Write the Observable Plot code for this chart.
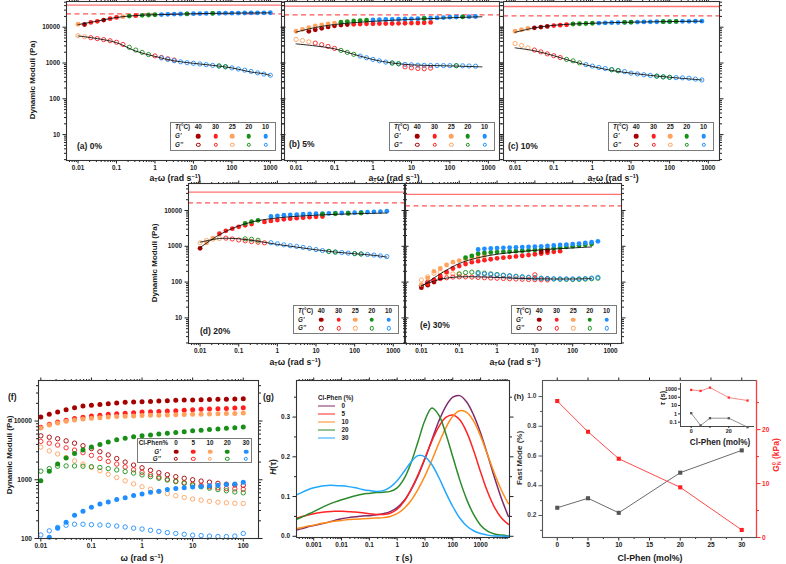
<!DOCTYPE html>
<html><head><meta charset="utf-8">
<script src="https://cdn.jsdelivr.net/npm/d3@7"></script>
<script src="https://cdn.jsdelivr.net/npm/@observablehq/plot@0.6"></script>
<style>
html,body{margin:0;padding:0;background:#fff;}
#fig{position:relative;width:786px;height:564px;overflow:hidden;font-family:"Liberation Sans",Arial,Helvetica,sans-serif;font-weight:bold;color:#1a1a1a;}
#fig svg{position:absolute;overflow:visible;}
.t{position:absolute;white-space:nowrap;line-height:1;}
.t sup{font-size:62%;vertical-align:0.55em;line-height:0;}
.t sub{font-size:62%;vertical-align:-0.3em;line-height:0;}
.ss{display:inline-block;vertical-align:-0.45em;font-size:60%;line-height:0.95;text-align:left;}
.ss span{display:block;}
.lg{position:absolute;border:1px solid #7a7a7a;background:#fff;box-sizing:border-box;}
.sw{position:absolute;border-radius:50%;box-sizing:border-box;transform:translate(-50%,-50%);}
.ln{position:absolute;height:0;border-top:1.6px solid;transform:translateY(-50%);}
</style></head><body><div id="fig"></div>
<script>
const fontFamily = '"Liberation Sans", Arial, Helvetica, sans-serif';
const fig = document.getElementById("fig");

// ---------- shared values ----------
// angular frequencies of the sweeps (6 points per decade)
const gridW = [0.01,0.0147,0.0215,0.0316,0.0464,0.0681,0.1,0.147,0.215,0.316,0.464,0.681,1,1.47,2.15,3.16,4.64,6.81,10,14.7,21.5,31.6,46.4,68.1,100,147,215,316,464,681,1000];
// frequencies at which the model fits are tabulated
const fitW = [0.01,0.0316,0.1,0.316,1,3.16,10,31.6,100,316,681,1000];
const temps = [40, 30, 25, 20, 10];
const tempColor = {40:"#a50000", 30:"#ff1f1f", 25:"#ffa25e", 20:"#189018", 10:"#1f8fff"};
const freqTicks = [0.01, 0.1, 1, 10, 100, 1000];
const moduliTicks = [10, 100, 1000, 10000];

// ---------- (a) 0 % ----------
// rows: [temperature, first grid index, values...]
const storageA = [
  [25,0,12100],[40,1,11900],[30,2,13600,14600],[40,4,15800],[30,5,17300,18700],[25,7,19700],
  [20,8,20500],[30,9,21000],[20,10,21500,21900,22300],
  [10,13,22600,22900,23200,23400,23600,23800,24000,24200,24400,24500,24600,24700,24800,24900,25000,25100,25200,25300],
  [20,17,23600],[20,21,24400]
];
const lossA = [
  [25,0,5800,5400],[30,2,5100,4800,4500,4200,3800,3300],[20,8,2750,2300,1980,1720],
  [30,12,1580,1430,1310,1210],
  [10,13,1390,1260,1160,1080,1020,980,940,900,860,820,780,730,680,630,580,530,490,455],
  [20,22,830,790]
];
const fitStorageA = [11800,14800,18700,21200,22300,23000,23700,24300,24700,25000,25100,25200];
const fitLossA = [5700,4800,3700,2150,1530,1150,980,860,730,560,500,450];
const plateauA = [41200, 23700];

// ---------- (b) 5 % ----------
const storageB = [
  [40,2,7700,8500,9300,10200,10900,11500,11900],
  [30,9,12100,12300,12400,12500,12600,12700,12700,12800,12900,13000,13100,13300,13600],
  [25,0,7700,8700,9700,10800,11600,12300,13000],
  [20,7,13800,14400,14900,15300,15700],
  [10,12,16000,16200,16400,16600,16800,17000,17100,17300,17600,17900,18200,18600,19000,19300,19500,19700,19900],
  [20,20,17600],[20,26,19500]
];
const lossB = [
  [25,0,4540,4250,3900],[30,3,3600,3250,2900,2550],[20,7,2250,1980,1750],
  [10,10,1560,1400,1260,1150,1060,1000,950,915,890,870,860,855,850,848,845,840,835,825,815],
  [20,15,1000,950],[20,25,840],[30,17,780,730,700,690,720]
];
const fitStorageB = [7300,9800,11900,13400,14600,15600,16500,17400,18300,19100,19600,null];
const fitLossB = [3430,3000,2500,1750,1250,1000,890,850,830,800,780,null];
const plateauB = [38600, 22200];

// ---------- (c) 10 % ----------
const storageC = [
  [25,0,7700,8500,9200],[40,3,9600,10100,10500],[30,6,11100,11400,11700],[20,9,12300,12500,12700,12900],
  [10,13,13050,13200,13350,13500,13650,13800,13900,14000,14100,14200,14300,14400,14500,14550,14600,14650,14700],
  [20,17,13650,13800],[20,23,14300,14400,14500]
];
const lossC = [
  [25,0,3500,3100,2650],[30,3,2300,2050,1800,1600,1420],[20,8,1260,1150,1010],
  [10,11,900,820,750,700,650,610,575,520,495,470,450,430,410,398,390,385,375,355,335],
  [20,15,650,610],[20,22,430,410,398]
];
const fitStorageC = [7200,9600,11300,12300,12900,13400,13800,14100,14400,14600,14700,null];
const fitLossC = [2650,2200,1600,1100,800,620,520,450,400,360,335,null];
const plateauC = [37900, 20800];

// ---------- (d) 20 % ----------
const storageD = [
  [40,0,880],[25,1,1250,1700],[30,3,2250,2700,3100,3500,3850,4200],[20,7,4350,4900,5300],
  [30,10,4800,5100,5400,5650,5900,6100,6300,6500,6650,6800],
  [10,11,6800,7100,7350,7550,7700,7850,8000,8100,8200,8300,8400,8500,8600,8700,8800,8950,9150,9350,9550],
  [20,19,7900],[20,21,8100],[20,23,8300],[20,25,8450]
];
const lossD = [
  [25,0,1250,1450,1580,1650],[30,4,1690,1600,1500,1420,1350,1300,1250],[20,7,1620,1570,1470],
  [10,11,1260,1170,1100,1040,990,930,870,810,760,720,690,670,645,625,610,590,570,540,515],
  [20,20,720,690],[20,24,625,610]
];
const fitStorageD = [920,2100,3700,5200,6200,6900,7400,7800,8100,8350,8500,null];
const fitLossD = [1300,1650,1620,1380,1130,950,800,690,620,560,500,null];
const plateauD = [32500, 16400];

// ---------- (e) 30 % ----------
const storageE = [
  [40,0,70,82,100,130],
  [30,1,90,115,150,190,240,280,320,360,385,410,435,460,480,500,520,545,570,600,630,660,700,730],
  [25,0,85,130,200,240,300,360,400,430,460,500,540],
  [20,7,480,540,620,650,670,690,700,715,730,750,770,790,820,850,880,920,960,1000,1050,1100,1150],
  [10,9,820,850,870,890,905,920,935,950,965,980,1000,1030,1060,1090,1120,1150,1190,1240,1300,1380],
  [40,19,700,760]
];
const lossE = [
  [40,0,80,95,110],[25,0,115,140,175,190,180,170,165],
  [30,1,100,112,125,132,138,140,140,138,135,132,130,128,126,124,122,120,118,117,116,115],
  [20,6,170,185,190,185,178,170,163,156,150,145,140,136,132,128,125,122,120,119,118,119,121,124,128],
  [10,9,172,168,163,158,153,148,143,139,135,131,128,126,124,123,123,123,124,126,130,136],
  [30,18,160]
];
const fitStorageE = [75,170,330,480,600,690,770,840,900,960,null,null];
const fitLossE = [80,120,140,140,135,128,124,122,122,125,null,null];
const plateauE = [28000, 13500];

// ---------- (f) 25 °C sweeps ----------
const compositions = [0, 5, 10, 20, 30];
const compColor = {0:"#a50000", 5:"#ff1f1f", 10:"#ffa25e", 20:"#189018", 30:"#1f8fff"};
const omegaF = gridW.slice(0, 25);
const storageF = [
  [11700,13000,14200,15600,16900,18000,18500,19200,19700,20200,20800,21000,21400,21600,21900,22200,22500,22800,22800,23000,23200,23400,23500,23700,24000],
  [7800,8800,9600,10300,11000,11600,12200,12600,13000,13300,13600,13900,14200,14400,14600,14800,15000,15300,15600,15800,16000,16200,16400,16600,16900],
  [7600,8600,9300,9900,10400,10800,11100,11400,11700,11900,12100,12200,12400,12500,12600,12700,12800,12900,13000,13100,13200,13300,13400,13500,13700],
  [960,1400,1850,2350,2800,3200,3600,4000,4400,4800,5100,5400,5600,5800,6000,6200,6400,6600,6800,7000,7200,7300,7500,7700,7900],
  [null,105,150,190,250,290,340,385,420,460,495,540,575,615,635,680,710,730,750,770,790,810,830,850,910]
];
const lossF = [
  [5600,5300,5000,4600,4200,3800,3400,3000,2650,2300,2000,1780,1600,1450,1320,1220,1130,1060,1000,950,910,870,840,820,805],
  [4500,4200,3900,3500,3200,2900,2600,2300,2050,1850,1650,1480,1340,1220,1110,1020,950,890,840,800,760,730,710,700,690],
  [3600,3100,2750,2400,2100,1850,1620,1420,1240,1090,960,850,760,690,630,580,535,500,470,450,430,415,405,398,395],
  [1400,1550,1700,1720,1720,1700,1670,1620,1550,1470,1380,1300,1210,1130,1060,990,930,870,810,760,720,680,650,620,600],
  [115,135,155,168,175,175,172,170,168,163,157,150,145,138,132,126,122,118,114,112,110,108,108,110,122]
];

// ---------- (g) relaxation spectra ----------
const tauGrid = [0.000178,0.000316,0.000562,0.001,0.00178,0.00316,0.00562,0.01,0.0178,0.0316,0.0562,0.1,0.178,0.316,0.562,1,1.78,3.16,5.62,10,17.8,31.6,56.2,100,178,316,562,1000,1780,3160,5620,10000];
const spectrumColor = {0:"#7e2b6c", 5:"#ff2424", 10:"#ff8c1a", 20:"#2b8a2b", 30:"#22a8ff"};
const spectra = {
  0:  [0.012,0.018,0.023,0.027,0.031,0.035,0.040,0.044,0.047,0.049,0.051,0.052,0.054,0.057,0.062,0.072,0.090,0.117,0.152,0.195,0.243,0.290,0.327,0.350,0.354,0.338,0.305,0.260,0.205,0.148,0.095,0.050],
  5:  [0.044,0.048,0.053,0.057,0.060,0.062,0.063,0.063,0.062,0.061,0.059,0.057,0.055,0.055,0.058,0.068,0.088,0.118,0.155,0.197,0.240,0.276,0.299,0.305,0.293,0.262,0.216,0.162,0.112,0.073,0.046,0.030],
  10: [0.018,0.021,0.025,0.028,0.032,0.035,0.038,0.040,0.042,0.043,0.044,0.045,0.046,0.047,0.050,0.057,0.070,0.090,0.118,0.152,0.192,0.234,0.273,0.302,0.316,0.312,0.290,0.252,0.205,0.158,0.116,0.082],
  20: [0.040,0.046,0.054,0.062,0.071,0.079,0.086,0.092,0.097,0.102,0.106,0.108,0.110,0.111,0.113,0.122,0.145,0.185,0.238,0.292,0.323,0.305,0.258,0.200,0.142,0.093,0.055,0.028,0.013,0.006,0.003,0.001],
  30: [0.100,0.108,0.116,0.122,0.126,0.128,0.128,0.127,0.125,0.122,0.118,0.115,0.113,0.115,0.124,0.140,0.163,0.187,0.203,0.200,0.180,0.148,0.110,0.075,0.046,0.026,0.014,0.007,0.003,0.001,0.0005,0.0002]
};

// ---------- (h) fast mode fraction, plateau modulus, relaxation times ----------
const clPhen = [0, 5, 10, 20, 30];
const fastMode = [0.252, 0.316, 0.218, 0.488, 0.638];
const plateauModulus = [25.3, 19.6, 14.6, 9.3, 1.4];
const tauFast = [1.2, 0.04, 0.3, 0.3, 0.025];
const tauSlow = [760, 575, 1440, 91, 40];
const fastModeTicks = [0.2, 0.4, 0.6, 0.8, 1.0];

// ---------- helpers ----------
function plotStyle(size) {
  return {background: "transparent", fontFamily, fontSize: size + "px", fontWeight: "bold", color: "#222", overflow: "visible"};
}
function addPlot(svg, left, top) {
  svg.style.position = "absolute";
  svg.style.left = left + "px";
  svg.style.top = top + "px";
  fig.appendChild(svg);
}
function minorLog(lo, hi) {
  const out = [];
  for (let e = Math.floor(Math.log10(lo)); e <= Math.ceil(Math.log10(hi)); e++)
    for (let m = 2; m <= 9; m++) {
      const v = +(m * Math.pow(10, e)).toPrecision(3);
      if (v > lo && v < hi) out.push(v);
    }
  return out;
}
const inside = (ticks, [lo, hi]) => ticks.filter(v => v >= lo && v <= hi);
const none = () => "";
function boxAxes({xMajor, xMinor, yMajor, yMinor, xFmt = String, yFmt = String, xLabels = true, yLabels = true, color = "#222", mirrorX = true, mirrorY = true}) {
  const big = 3.5, small = 2;
  const m = [
    Plot.axisX(xMajor, {anchor: "bottom", tickSize: big, tickPadding: 1.5, tickFormat: xLabels ? xFmt : none, label: null, color}),
    Plot.axisX(xMinor, {anchor: "bottom", tickSize: small, tickFormat: none, label: null, color}),
    Plot.axisY(yMajor, {anchor: "left", tickSize: big, tickPadding: 3, tickFormat: yLabels ? yFmt : none, label: null, color}),
    Plot.axisY(yMinor, {anchor: "left", tickSize: small, tickFormat: none, label: null, color})
  ];
  if (mirrorX) m.push(
    Plot.axisX(xMajor, {anchor: "top", tickSize: big, tickFormat: none, label: null, color}),
    Plot.axisX(xMinor, {anchor: "top", tickSize: small, tickFormat: none, label: null, color}));
  if (mirrorY) m.push(
    Plot.axisY(yMajor, {anchor: "right", tickSize: big, tickFormat: none, label: null, color}),
    Plot.axisY(yMinor, {anchor: "right", tickSize: small, tickFormat: none, label: null, color}));
  return m;
}
function label(html, x, y, {size = 8.5, rotate = 0, anchor = "middle", color = "#1a1a1a"} = {}) {
  const d = document.createElement("div");
  d.className = "t";
  d.innerHTML = html;
  d.style.left = x + "px";
  d.style.top = y + "px";
  d.style.fontSize = size + "px";
  d.style.color = color;
  const tx = anchor === "start" ? "0" : anchor === "end" ? "-100%" : "-50%";
  d.style.transform = `translate(${tx},-50%)` + (rotate ? ` rotate(${rotate}deg)` : "");
  fig.appendChild(d);
}
function swatch(x, y, color, filled, size = 4.6) {
  const s = document.createElement("span");
  s.className = "sw";
  s.style.left = x + "px";
  s.style.top = y + "px";
  s.style.width = s.style.height = size + "px";
  if (filled) s.style.background = color;
  else s.style.border = `1px solid ${color}`;
  fig.appendChild(s);
}
function box(left, top, w, h) {
  const b = document.createElement("div");
  b.className = "lg";
  Object.assign(b.style, {left: left + "px", top: top + "px", width: w + "px", height: h + "px"});
  fig.appendChild(b);
}

// ---------- master-curve panels ----------
const yDomTop = [1.89, 52240];
const yDomMid = [1.93, 56700];
const xDomMaster = [0.00501, 1950];
const xDomE = [0.0038, 1950];

function moduliPanel({frame, xDomain, yDomain, storage, loss, fitStorage, fitLoss, plateau, yLabels}) {
  const [l, t, w, h] = frame;
  const m = {l: 30, r: 6, t: 4, b: 14};
  const pts = rows => rows.flatMap(([T, k, ...vals]) => vals.map((v, i) => ({T, w: gridW[k + i], v})));
  const fit = vals => fitW.map((w, i) => ({w, v: vals[i]})).filter(d => d.v != null);
  const svg = Plot.plot({
    width: w + m.l + m.r, height: h + m.t + m.b,
    marginLeft: m.l, marginRight: m.r, marginTop: m.t, marginBottom: m.b,
    x: {type: "log", domain: xDomain},
    y: {type: "log", domain: yDomain},
    color: {type: "identity"},
    style: plotStyle(6.4),
    marks: [
      Plot.ruleY([plateau[0]], {stroke: "#ff7272", strokeWidth: 1.3}),
      Plot.ruleY([plateau[1]], {stroke: "#ff5656", strokeWidth: 1.2, strokeDasharray: "5 3.5"}),
      Plot.dot(pts(loss), {x: "w", y: "v", r: 2.1, stroke: d => tempColor[d.T], strokeWidth: 0.9, fill: "none"}),
      Plot.dot(pts(storage), {x: "w", y: "v", r: 2.4, fill: d => tempColor[d.T]}),
      Plot.line(fit(fitStorage), {x: "w", y: "v", stroke: "#111", strokeWidth: 0.9, curve: "catmull-rom"}),
      Plot.line(fit(fitLoss), {x: "w", y: "v", stroke: "#111", strokeWidth: 0.9, curve: "catmull-rom"}),
      ...boxAxes({
        xMajor: inside(freqTicks, xDomain), xMinor: minorLog(...xDomain),
        yMajor: inside(moduliTicks, yDomain), yMinor: minorLog(...yDomain),
        yLabels
      }),
      Plot.frame({stroke: "#333", strokeWidth: 1.1})
    ]
  });
  addPlot(svg, l - m.l, t - m.t);
}

moduliPanel({frame: [66, 1, 215, 159], xDomain: xDomMaster, yDomain: yDomTop, storage: storageA, loss: lossA, fitStorage: fitStorageA, fitLoss: fitLossA, plateau: plateauA, yLabels: true});
moduliPanel({frame: [284, 1, 215, 159], xDomain: xDomMaster, yDomain: yDomTop, storage: storageB, loss: lossB, fitStorage: fitStorageB, fitLoss: fitLossB, plateau: plateauB, yLabels: false});
moduliPanel({frame: [503, 1, 216, 159], xDomain: xDomMaster, yDomain: yDomTop, storage: storageC, loss: lossC, fitStorage: fitStorageC, fitLoss: fitLossC, plateau: plateauC, yLabels: false});
moduliPanel({frame: [188, 183, 216, 160], xDomain: xDomMaster, yDomain: yDomMid, storage: storageD, loss: lossD, fitStorage: fitStorageD, fitLoss: fitLossD, plateau: plateauD, yLabels: true});
moduliPanel({frame: [405, 183, 216, 160], xDomain: xDomE, yDomain: yDomMid, storage: storageE, loss: lossE, fitStorage: fitStorageE, fitLoss: fitLossE, plateau: plateauE, yLabels: false});

// ---------- (f) ----------
{
  const frame = [38, 380, 220, 158], m = {l: 30, r: 6, t: 4, b: 14};
  const xDomain = [0.009, 200], yDomain = [100, 49000];
  const pts = rows => compositions.flatMap((c, i) => rows[i].map((v, k) => ({c, w: omegaF[k], v}))).filter(d => d.v != null);
  const svg = Plot.plot({
    width: frame[2] + m.l + m.r, height: frame[3] + m.t + m.b,
    marginLeft: m.l, marginRight: m.r, marginTop: m.t, marginBottom: m.b,
    x: {type: "log", domain: xDomain}, y: {type: "log", domain: yDomain},
    color: {type: "identity"},
    style: plotStyle(6.6),
    marks: [
      Plot.dot(pts(lossF), {x: "w", y: "v", r: 2.2, stroke: d => compColor[d.c], strokeWidth: 0.9, fill: "none"}),
      Plot.dot(pts(storageF), {x: "w", y: "v", r: 2.5, fill: d => compColor[d.c]}),
      ...boxAxes({
        xMajor: inside(freqTicks, xDomain), xMinor: minorLog(...xDomain),
        yMajor: [100, 1000, 10000], yMinor: minorLog(...yDomain)
      }),
      Plot.frame({stroke: "#333", strokeWidth: 1.1})
    ]
  });
  addPlot(svg, frame[0] - m.l, frame[1] - m.t);
}

// ---------- (g) ----------
{
  const frame = [296, 380, 213, 157], m = {l: 24, r: 6, t: 4, b: 14};
  const xDomain = [0.00024, 10960], yDomain = [-0.003, 0.392];
  const lines = compositions.flatMap(c => spectra[c].map((v, i) => ({c, tau: tauGrid[i], v})));
  const svg = Plot.plot({
    width: frame[2] + m.l + m.r, height: frame[3] + m.t + m.b,
    marginLeft: m.l, marginRight: m.r, marginTop: m.t, marginBottom: m.b,
    x: {type: "log", domain: xDomain}, y: {domain: yDomain},
    color: {type: "identity"},
    style: plotStyle(6.4),
    marks: [
      Plot.line(lines, {x: "tau", y: "v", z: "c", stroke: d => spectrumColor[d.c], strokeWidth: 1.5, curve: "catmull-rom", clip: true}),
      ...boxAxes({
        xMajor: [0.001, 0.01, 0.1, 1, 10, 100, 1000], xMinor: minorLog(...xDomain),
        yMajor: [0, 0.1, 0.2, 0.3], yMinor: [0.05, 0.15, 0.25, 0.35], yFmt: d3.format(".1f")
      }),
      Plot.frame({stroke: "#333", strokeWidth: 1.1})
    ]
  });
  addPlot(svg, frame[0] - m.l, frame[1] - m.t);
}

// ---------- (h) ----------
const frameH = [542, 380, 214, 157], marginH = {l: 24, r: 30, t: 4, b: 14};
let fastModeScale;
{
  const frame = frameH, m = marginH;
  const xDomain = [-2.4, 32.4], yDomain = [0.052, 1.108];
  const base = Plot.plot({
    width: frame[2] + m.l + m.r, height: frame[3] + m.t + m.b,
    marginLeft: m.l, marginRight: m.r, marginTop: m.t, marginBottom: m.b,
    x: {domain: xDomain}, y: {domain: yDomain},
    style: plotStyle(6.5),
    marks: [
      Plot.line(clPhen, {x: d => d, y: (d, i) => fastMode[i], stroke: "#6b6b6b", strokeWidth: 1}),
      Plot.dot(clPhen, {x: d => d, y: (d, i) => fastMode[i], symbol: "square", r: 2.3, fill: "#555"}),
      Plot.axisX([0, 5, 10, 15, 20, 25, 30], {anchor: "bottom", tickSize: 3.5, tickPadding: 1.5, tickFormat: String, label: null}),
      Plot.axisX([2.5, 7.5, 12.5, 17.5, 22.5, 27.5], {anchor: "bottom", tickSize: 2, tickFormat: none, label: null}),
      Plot.axisX([0, 5, 10, 15, 20, 25, 30], {anchor: "top", tickSize: 3.5, tickFormat: none, label: null}),
      Plot.axisY(fastModeTicks, {anchor: "left", tickSize: 3.5, tickFormat: none, label: null, stroke: "#555"}),
      Plot.axisY([0.1, 0.3, 0.5, 0.7, 0.9], {anchor: "left", tickSize: 2, tickFormat: none, label: null, stroke: "#555"}),
      Plot.frame({stroke: "#555", strokeWidth: 1.1})
    ]
  });
  addPlot(base, frame[0] - m.l, frame[1] - m.t);
  fastModeScale = base.scale("y");
  // plateau modulus on the right-hand axis
  const over = Plot.plot({
    width: frame[2] + m.l + m.r, height: frame[3] + m.t + m.b,
    marginLeft: m.l, marginRight: m.r, marginTop: m.t, marginBottom: m.b,
    x: {domain: xDomain, axis: null}, y: {domain: [0, 29.1], axis: null},
    style: plotStyle(6.6),
    marks: [
      Plot.ruleX([xDomain[1]], {stroke: "#ff3b3b", strokeWidth: 1.2}),
      Plot.line(clPhen, {x: d => d, y: (d, i) => plateauModulus[i], stroke: "#ff4a4a", strokeWidth: 1}),
      Plot.dot(clPhen, {x: d => d, y: (d, i) => plateauModulus[i], symbol: "square", r: 2.3, fill: "#ff2020"}),
      Plot.axisY([0, 10, 20], {anchor: "right", tickSize: 3.5, tickPadding: 2, tickFormat: String, label: null, color: "#ff2a2a"}),
      Plot.axisY([5, 15, 25], {anchor: "right", tickSize: 2, tickFormat: none, label: null, color: "#ff2a2a"})
    ]
  });
  addPlot(over, frame[0] - m.l, frame[1] - m.t);
  // inset: relaxation times
  const f2 = [680, 383, 74, 43], m2 = {l: 16, r: 4, t: 3, b: 9};
  const ix = [-5.7, 33.7], iy = [0.03, 4500];
  const inset = Plot.plot({
    width: f2[2] + m2.l + m2.r, height: f2[3] + m2.t + m2.b,
    marginLeft: m2.l, marginRight: m2.r, marginTop: m2.t, marginBottom: m2.b,
    x: {domain: ix}, y: {type: "log", domain: iy},
    style: plotStyle(5.4),
    marks: [
      Plot.ruleX([ix[0]], {stroke: "#333", strokeWidth: 0.9}),
      Plot.ruleY([iy[0]], {stroke: "#333", strokeWidth: 0.9}),
      Plot.axisY([0.1, 1, 10, 100, 1000], {anchor: "left", tickSize: 2, tickPadding: 1.5, tickFormat: String, label: null}),
      Plot.axisX([0, 10, 20, 30], {anchor: "bottom", tickSize: 2, tickPadding: 1, tickFormat: d => (d === 0 || d === 20) ? String(d) : "", label: null}),
      Plot.line(clPhen, {x: d => d, y: (d, i) => tauSlow[i], stroke: "#ff6a6a", strokeWidth: 0.8}),
      Plot.dot(clPhen, {x: d => d, y: (d, i) => tauSlow[i], symbol: "square", r: 1.3, fill: "#ff3030"}),
      Plot.line(clPhen, {x: d => d, y: (d, i) => tauFast[i], stroke: "#777", strokeWidth: 0.8}),
      Plot.dot(clPhen, {x: d => d, y: (d, i) => tauFast[i], symbol: "square", r: 1.3, fill: "#555"})
    ]
  });
  addPlot(inset, f2[0] - m2.l, f2[1] - m2.t);
}

// ---------- legends ----------
const tempCols = [28.3, 45.5, 62.3, 78.8, 95.5];
function tempLegend(left, top) {
  box(left, top, 106, 29);
  label("<i>T</i>(°C)", left + 5, top + 5.6, {size: 6.3, anchor: "start"});
  label("<i>G'</i>", left + 5, top + 14.6, {size: 6.3, anchor: "start"});
  label("<i>G''</i>", left + 5, top + 23.2, {size: 6.3, anchor: "start"});
  temps.forEach((T, i) => {
    label(String(T), left + tempCols[i], top + 5.6, {size: 6.3});
    swatch(left + tempCols[i], top + 14.6, tempColor[T], true);
    swatch(left + tempCols[i], top + 23.2, tempColor[T], false, 4.4);
  });
}
tempLegend(170, 121.7);
tempLegend(389, 121.7);
tempLegend(608, 121.7);
tempLegend(293, 305);
tempLegend(511, 305);

{
  const left = 136.7, top = 438;
  box(left, top, 115, 25);
  const cols = [39.3, 56.6, 73.3, 90.6, 109.3];
  label("Cl-Phen%", left + 2, top + 5.4, {size: 6.3, anchor: "start"});
  label("<i>G'</i>", left + 24, top + 13.6, {size: 6.3, anchor: "end"});
  label("<i>G''</i>", left + 24, top + 20.6, {size: 6.3, anchor: "end"});
  compositions.forEach((c, i) => {
    label(String(c), left + cols[i], top + 5.4, {size: 6.3});
    swatch(left + cols[i], top + 13.6, compColor[c], true);
    swatch(left + cols[i], top + 20.6, compColor[c], false, 4.4);
  });
}
{
  label("Cl-Phen (%)", 318, 397.7, {size: 6.3, anchor: "start"});
  compositions.forEach((c, i) => {
    const y = 405.7 + i * 8;
    const l = document.createElement("div");
    l.className = "ln";
    Object.assign(l.style, {left: "318px", top: y + "px", width: "17px", borderTopColor: spectrumColor[c]});
    fig.appendChild(l);
    label(String(c), 341.5, y, {size: 6.3, anchor: "start"});
  });
}

// ---------- titles and panel tags ----------
const freqTitle = "a<sub>T</sub>ω (rad s<sup>−1</sup>)";
const moduliTitle = "Dynamic Moduli (Pa)";
label(moduliTitle, 33, 80, {size: 8, rotate: -90});
label(moduliTitle, 155, 263, {size: 8, rotate: -90});
label(moduliTitle, 10, 455, {size: 8, rotate: -90});
label(freqTitle, 175, 178, {size: 8.8});
label(freqTitle, 394, 178, {size: 8.8});
label(freqTitle, 613, 178, {size: 8.8});
label(freqTitle, 295, 362, {size: 8.8});
label(freqTitle, 515, 362, {size: 8.8});
label("ω (rad s<sup>−1</sup>)", 142, 558, {size: 8.8});
label("<i>τ</i> (s)", 404, 558, {size: 8.8});
label("Cl-Phen (mol%)", 650, 558, {size: 8.8});
label("<i>H</i>(τ)", 273, 467, {size: 8.5, rotate: -90});
label("Fast Mode (%)", 519.5, 458, {size: 8, rotate: -90, color: "#333"});
label('G<span class="ss"><span>0</span><span>N</span></span> (kPa)', 777, 455, {size: 8.5, rotate: -90, color: "#ff2a2a"});
label("<i>τ</i> (s)", 663, 398, {size: 7.5, rotate: -90});
label("Cl-Phen (mol%)", 720, 443, {size: 8.2});

label("(a) 0%", 77, 146, {anchor: "start"});
label("(b) 5%", 289, 143.5, {anchor: "start"});
label("(c) 10%", 508, 146, {anchor: "start"});
label("(d) 20%", 200, 331, {anchor: "start"});
label("(e) 30%", 420, 324.5, {anchor: "start"});
label("(f)", 8, 397, {anchor: "start"});
label("(g)", 263, 397, {anchor: "start"});
label("(h)", 524, 397, {anchor: "end", size: 8});

// fast-mode tick labels, placed through the plot's own y scale
fastModeTicks.forEach(v => {
  const py = frameH[1] - marginH.t + fastModeScale.apply(v);
  label(d3.format(".1f")(v), frameH[0] - 5.5, py, {size: 6.6, anchor: "end", color: "#444"});
});
</script></body></html>
